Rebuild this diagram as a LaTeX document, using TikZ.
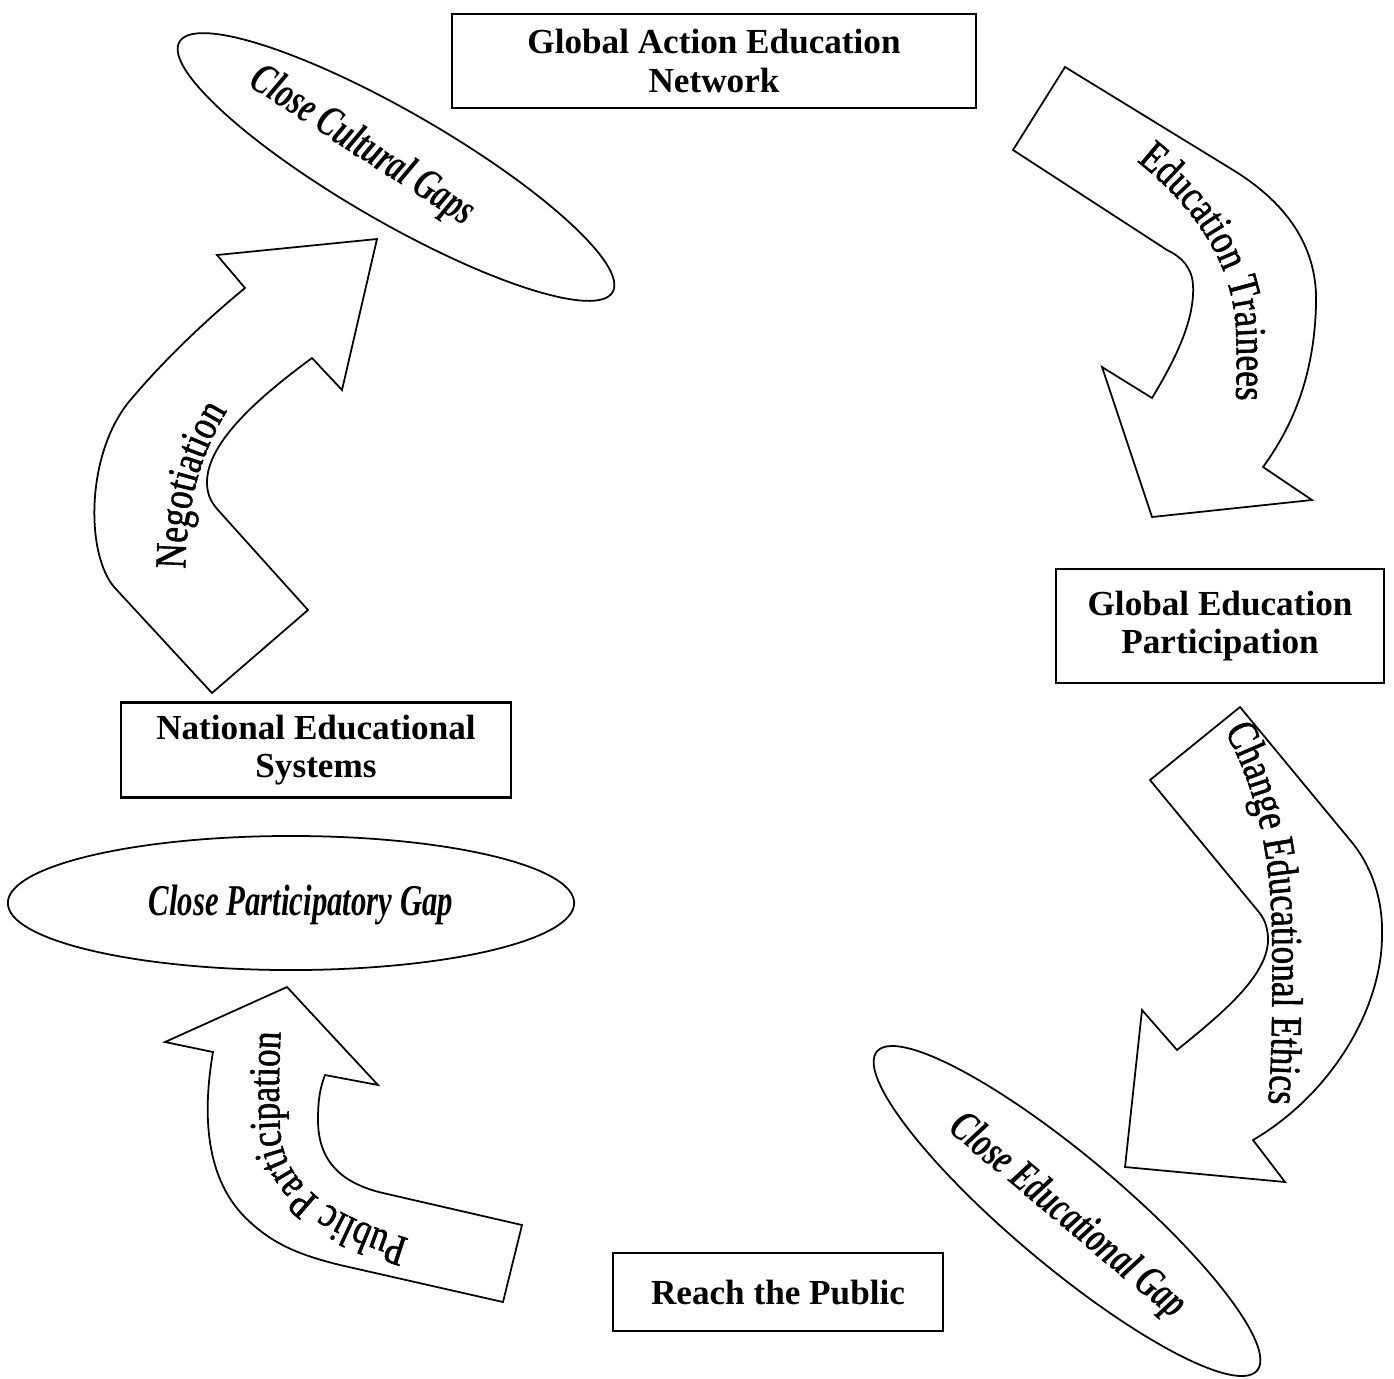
\documentclass[tikz,border=0pt]{standalone}
\usepackage{fontspec}
\setmainfont{Liberation Serif}
\newfontfamily\ovalfont[FakeStretch=0.7]{Liberation Serif}
\newfontfamily\arrowfont[FakeStretch=0.8,FakeBold=1.2]{Liberation Serif}
\usetikzlibrary{shapes.geometric,decorations.text}
\newcommand{\arrowtext}{\arrowfont\fontsize{12.5}{15}\selectfont}
\newcommand{\ovaltext}{\ovalfont\bfseries\itshape\fontsize{12.5}{14}\selectfont}

\begin{document}
\begin{tikzpicture}[x=0.01cm,y=-0.01cm,
    box/.style={draw,line width=0.6pt,inner sep=0pt,align=center,font=\bfseries\fontsize{10}{11}\selectfont},
    oval/.style={draw,ellipse,line width=0.5pt,inner sep=0pt},
    ovallabel/.style={inner sep=0pt,font=\ovaltext},
    bigarrow/.style={draw,line width=0.5pt,line join=miter},
    arrowlabel/.style={decorate,decoration={text along path,text align=center,text={|\arrowtext|#1}}}]

    \useasboundingbox (0,0) rectangle (1394,1378);

    % boxes
    \node[box,minimum width=5.24cm,minimum height=0.94cm] (gaen) at (714,61) {Global Action Education\\Network};
    \node[box,minimum width=3.28cm,minimum height=1.14cm] (gep) at (1220,626) {Global Education\\Participation};
    \node[box,minimum width=3.89cm,minimum height=0.95cm] (nes) at (316,750) {National Educational\\Systems};
    \node[box,minimum width=3.29cm,minimum height=0.78cm] (rtp) at (778,1292) {Reach the Public};

    % gaps
    \node[oval,minimum width=5cm,minimum height=1.1cm,rotate=-30] (ccg) at (396,167) {};
    \node[ovallabel,rotate=-33] (ccgtext) at (362,147) {Close Cultural Gaps};
    \node[oval,minimum width=5.66cm,minimum height=1.34cm] (cpg) at (291,903) {};
    \node[ovallabel] (cpgtext) at (301,905) {Close Participatory Gap};
    \node[oval,minimum width=4.96cm,minimum height=1.1cm,rotate=-40] (ceg) at (1067,1211) {};
    \node[ovallabel,rotate=-40] (cegtext) at (1067,1217) {Close Educational Gap};

    % curved arrows
    \draw[bigarrow] (1013,150) -- (1065,67) -- (1233,170) .. controls (1290,205) and (1318,250) .. (1316,305)
        .. controls (1314,380) and (1290,430) .. (1263,467) -- (1312,500) -- (1152,517) -- (1102,367) -- (1152,398)
        .. controls (1175,360) and (1195,320) .. (1193,285) .. controls (1192,268) and (1182,257) .. (1167,250) -- cycle;
    \path[arrowlabel={Education Trainees}] (1100,135) .. controls (1185,190) and (1232,255) .. (1236,330)
        .. controls (1238,380) and (1236,420) .. (1230,445);

    \draw[bigarrow] (1150,780) -- (1240,707) -- (1350,840) .. controls (1372,866) and (1383,900) .. (1382,935)
        .. controls (1382,1010) and (1330,1095) .. (1253,1140) -- (1285,1182) -- (1125,1167) -- (1142,1010) -- (1177,1050)
        .. controls (1220,1015) and (1270,975) .. (1268,937) .. controls (1267,925) and (1264,918) .. (1258,911) -- cycle;
    \path[arrowlabel={Change Educational Ethics}] (1205,700) .. controls (1255,770) and (1270,850) .. (1272,930)
        .. controls (1273,1010) and (1272,1080) .. (1265,1140);

    \draw[bigarrow] (522,1225) -- (383,1193) .. controls (340,1183) and (318,1160) .. (318,1120)
        .. controls (318,1100) and (320,1088) .. (325,1075) -- (378,1085) -- (287,987) -- (165,1042) -- (213,1052)
        .. controls (203,1110) and (203,1180) .. (250,1222) .. controls (275,1245) and (300,1255) .. (340,1265) -- (503,1302) -- cycle;
    \path[arrowlabel={Public Participation}] (440,1248) .. controls (360,1225) and (285,1200) .. (280,1130)
        .. controls (278,1090) and (279,1050) .. (283,1000);

    \draw[bigarrow] (212,693) -- (115,588) .. controls (85,555) and (85,450) .. (133,397)
        .. controls (160,365) and (200,325) .. (245,288) -- (217,255) -- (377,239) -- (342,390) -- (312,358)
        .. controls (255,400) and (205,445) .. (207,485) .. controls (208,497) and (212,503) .. (218,510) -- (308,610) -- cycle;
    \path[arrowlabel=Negotiation] (186,600) .. controls (182,520) and (195,450) .. (245,385);
\end{tikzpicture}
\end{document}
